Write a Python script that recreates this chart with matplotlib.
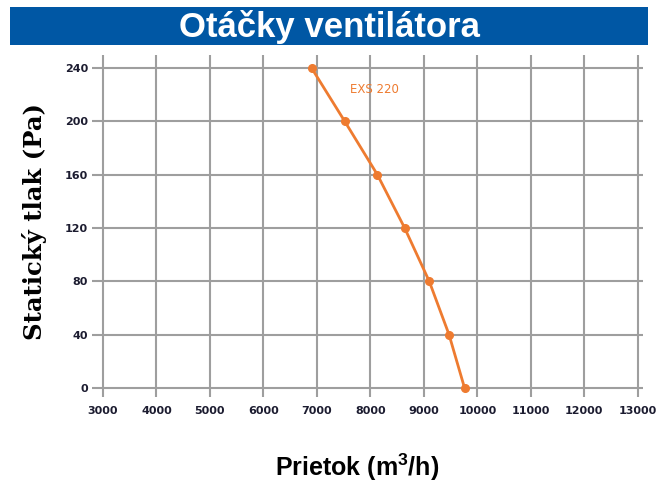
import matplotlib.pyplot as plt
from matplotlib.patches import Rectangle

# curve EXS 220
flow = [6900, 7520, 8130, 8640, 9100, 9470, 9760]
pressure = [240, 200, 160, 120, 80, 40, 0]
x_ticks = [3000, 4000, 5000, 6000, 7000, 8000, 9000, 10000, 11000, 12000, 13000]
y_ticks = [0, 40, 80, 120, 160, 200, 240]

orange = '#EE7B30'
plt.rcParams['mathtext.default'] = 'regular'

fig = plt.figure(figsize=(6.59, 4.88), dpi=100)

# blue title banner
fig.patches.append(Rectangle((0.015, 0.908), 0.968, 0.078, transform=fig.transFigure,
                             facecolor='#0057A4', edgecolor='none'))
fig.text(0.5, 0.945, 'Otáčky ventilátora', color='white', fontsize=25, fontweight='bold',
         family='Liberation Sans', ha='center', va='center')

ax = fig.add_axes([0.140, 0.186, 0.836, 0.702])
ax.plot(flow, pressure, color=orange, lw=2, marker='o', ms=5.5)
ax.text(7620, 224, 'EXS 220', color=orange, fontsize=8.5, ha='left', va='center')

ax.set_xlim(2800, 13100)
ax.set_ylim(-7, 250)
ax.set_xticks(x_ticks)
ax.set_yticks(y_ticks)
ax.grid(True, color='#9e9e9e', lw=1.5)
ax.set_axisbelow(True)
for s in ax.spines.values():
    s.set_visible(False)
ax.tick_params(length=0, labelsize=8, labelcolor='#1c1c30')
ax.tick_params(axis='x', pad=6)
ax.tick_params(axis='y', pad=3)
for lab in ax.get_xticklabels() + ax.get_yticklabels():
    lab.set_fontweight('bold')

fig.text(0.052, 0.545, 'Statický tlak (Pa)', rotation=90, family='DejaVu Serif',
         fontweight='bold', fontsize=17.5, ha='center', va='center')
fig.text(0.542, 0.043, 'Prietok (m$^3$/h)', family='Liberation Sans',
         fontweight='bold', fontsize=18, ha='center', va='center')

fig.savefig('out.png', dpi=100)
